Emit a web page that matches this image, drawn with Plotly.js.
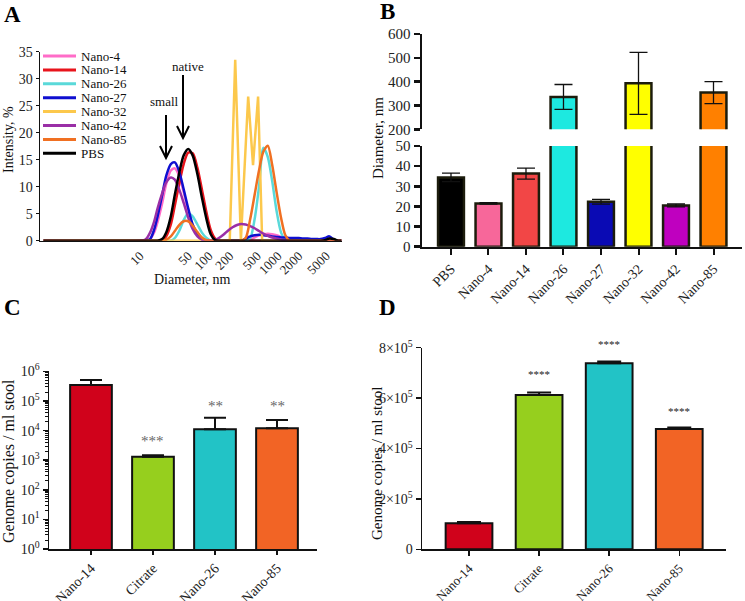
<!DOCTYPE html>
<html>
<head>
<meta charset="utf-8">
<script src="https://cdn.plot.ly/plotly-3.0.1.min.js"></script>
<style>html,body{margin:0;padding:0;background:#fff;}#chart{width:745px;height:601px;}</style>
</head>
<body>
<div id="chart"></div>
<script>
// ---------- Panel A: DLS intensity distributions ----------
const diameterNm = [0.4,10,12,14,16,18,21,24,28,32,37,43,50,58,68,79,92,106,123,143,165,190,220,255,295,340,396,459,531,615,712,825,955,1110,1280,1480,1720,1990,2300,2670,3090,3580,4150,4800,5560,6440,7460,8300];
const intNano4  = [0,0,0,0.3,1.5,3.5,7,10.5,13,13.4,12,9,5.5,2.8,1,0.2,0,0,0,0,0,0,0,0,0,0,0.2,0.6,1.0,1.2,1.3,1.2,1.0,0.7,0.4,0.2,0,0,0,0,0,0,0,0,0,0,0,0];
const intNano14 = [0,0,0,0,0,0,0.1,0.8,3,6.5,10.5,14.2,16.3,16.2,13.5,9.5,5.2,2,0.4,0,0,0,0,0,0,0,0,0,0,0,0,0,0,0,0,0,0,0,0,0,0,0,0,0,0,0,0,0];
const intNano26 = [0,0,0,0,0,0,0,0,0,0.5,1.8,3.8,5.1,4.5,3,1.5,0.5,0,0,0,0,0,0,0,0,0,0.5,4,10,17.2,15.5,11,5.5,1.5,0.2,0,0,0,0,0,0,0,0,0,0,0,0,0];
const intNano27 = [0,0,0,0.3,2,4.5,8.5,12,14.2,14.5,12.8,9.5,6,3,1.2,0.3,0,0,0,0,0,0,0,0,0,0.4,0.8,1.0,1.1,1.0,0.9,0.8,0.7,0.6,0.6,0.5,0.5,0.5,0.4,0.4,0.3,0.3,0.3,0.5,0.8,0.2,0,0];
const intNano42 = [0,0,0.2,1.5,3.5,6,8.8,10.8,11.7,11.3,9.5,7,4.3,2.2,0.8,0.2,0,0,0.1,0.6,1.2,1.9,2.5,2.9,3.1,3.0,2.7,2.3,1.8,1.3,0.9,0.6,0.4,0.2,0.1,0,0,0,0,0,0,0,0,0,0,0,0,0];
const intNano85 = [0,0,0,0,0,0,0,0.2,0.8,1.8,2.9,3.6,3.6,2.8,1.6,0.6,0.1,0,0,0,0,0,0,0,0,0.5,4,8.5,13,16.5,17.6,14,9,4.2,1,0,0,0,0,0,0,0,0,0,0.2,0.1,0,0];
const intPBS    = [0,0,0,0,0,0,0.3,1.5,4.5,8.5,12.5,15.8,17.0,15.8,12.3,8,4,1.2,0.1,0,0,0,0,0,0,0,0,0,0,0,0,0,0,0,0,0,0,0,0,0,0,0,0,0.1,0.4,0.3,0,0];
const diameterNano32 = [0.4,200,240,290,370,435,515,590,8300];
const intNano32      = [0,0,33.5,0,26.7,14,26.7,0,0];
const seriesNamesA  = ['Nano-4','Nano-14','Nano-26','Nano-27','Nano-32','Nano-42','Nano-85','PBS'];
const seriesColorsA = ['#ff6cc8','#e8141c','#5ad9d9','#0f0fd0','#fcc84c','#9a2fa6','#f07022','#000000'];
const xTicksA = [10,50,100,200,500,1000,2000,5000];

// ---------- Panel B: mean diameter ----------
const catsB   = ['PBS','Nano-4','Nano-14','Nano-26','Nano-27','Nano-32','Nano-42','Nano-85'];
const diamB   = [34.4,21.5,36.3,336,22.3,393,20.5,354];
const errB    = [2.1,0.4,2.7,52,1.2,130,0.7,46];
const colorsB = ['#000000','#f7679a','#f24646','#1de9e0','#0a0ab4','#ffff00','#bf00bf','#ff8000'];

// ---------- Panels C, D: genome copies ----------
const catsCD   = ['Nano-14','Citrate','Nano-26','Nano-85'];
const colorsCD = ['#d0021b','#96cf1e','#22c3c6','#f26425'];
const copiesC  = [3.5e5,1.3e3,1.1e4,1.2e4];
const errC     = [1.6e5,1.7e2,1.6e4,1.1e4];
const starsC   = ['','***','**','**'];
const copiesD  = [1.03e5,6.12e5,7.38e5,4.77e5];
const errD     = [0.05e5,0.1e5,0.07e5,0.06e5];
const starsD   = ['','****','****','****'];

// ---------- helpers ----------
const W = 745, H = 601;
const px = v => v / W;
const py = v => 1 - v / H;
const SERIF = 'Liberation Serif, Times New Roman, serif';
const INK = '#111';

const traces = [];
const intensities = [intNano4,intNano14,intNano26,intNano27,null,intNano42,intNano85,intPBS];
seriesNamesA.forEach((nm, i) => {
  const isZig = nm === 'Nano-32';
  traces.push({
    type:'scatter', mode:'lines', name:nm, xaxis:'x', yaxis:'y',
    x: isZig ? diameterNano32 : diameterNm,
    y: isZig ? intNano32 : intensities[i],
    line:{color:seriesColorsA[i], width:2.5, shape: isZig ? 'linear' : 'spline', smoothing:0.8}
  });
});

// Panel B: broken axis = same bars on a lower and upper axis
['y2','y3'].forEach(ya => {
  traces.push({
    type:'bar', xaxis:'x2', yaxis:ya, x:catsB, y:diamB, width:0.69,
    marker:{color:colorsB, line:{color:'#1c1c0c', width:2.5}},
    error_y:{type:'data', array:errB, visible:true, color:'#111', thickness:1.3, width:9}
  });
});

traces.push({
  type:'bar', xaxis:'x3', yaxis:'y4', x:catsCD, y:copiesC, width:0.673,
  marker:{color:colorsCD, line:{color:INK, width:2}},
  error_y:{type:'data', array:errC, arrayminus:[0,0,0,0], symmetric:false, visible:true, color:INK, thickness:2, width:11}
});
traces.push({
  type:'bar', xaxis:'x4', yaxis:'y5', x:catsCD, y:copiesD, width:0.667,
  marker:{color:colorsCD, line:{color:INK, width:2}},
  error_y:{type:'data', array:errD, arrayminus:[0,0,0,0], symmetric:false, visible:true, color:INK, thickness:2, width:12}
});

const baseAxis = {showgrid:false, zeroline:false, showline:true, linecolor:INK, tickcolor:INK,
                  tickfont:{family:SERIF, size:14, color:'#222'}, automargin:false, fixedrange:true};

const annotations = [];
const shapes = [];

function ann(x, y, text, opts) {
  annotations.push(Object.assign({xref:'paper', yref:'paper', x:px(x), y:py(y), text:text, showarrow:false,
    xanchor:'center', yanchor:'middle', font:{family:SERIF, size:14, color:'#111'}}, opts || {}));
}
// panel letters
ann(13, 15, '<b>A</b>', {font:{family:SERIF, size:23, color:'#000'}});
ann(387, 12, '<b>B</b>', {font:{family:SERIF, size:23, color:'#000'}});
ann(13, 307, '<b>C</b>', {font:{family:SERIF, size:23, color:'#000'}});
ann(387, 307, '<b>D</b>', {font:{family:SERIF, size:23, color:'#000'}});
// axis titles
ann(8, 140, 'Intensity, %', {textangle:-90, font:{family:SERIF, size:14, color:'#111'}});
ann(192, 279, 'Diameter, nm', {font:{family:SERIF, size:14, color:'#111'}});
ann(378, 138, 'Diameter, nm', {textangle:-90, font:{family:SERIF, size:15, color:'#111'}});
ann(9, 461, 'Genome copies / ml stool', {textangle:-90, font:{family:SERIF, size:16, color:'#111'}});
ann(377, 464, 'Genome copies / ml stool', {textangle:-90, font:{family:SERIF, size:15, color:'#111'}});
// arrows labels
ann(188, 66, 'native', {font:{family:SERIF, size:13, color:'#111'}});
ann(164, 102, 'small', {font:{family:SERIF, size:13, color:'#111'}});

function arrow(x, y0, y1) {
  shapes.push({type:'line', xref:'paper', yref:'paper', x0:px(x), x1:px(x), y0:py(y0), y1:py(y1-1), line:{color:'#000', width:2}});
  shapes.push({type:'path', xref:'paper', yref:'paper',
    path:`M${px(x-6)},${py(y1-12)} L${px(x)},${py(y1)} L${px(x+6)},${py(y1-12)}`, line:{color:'#000', width:2}});
}
arrow(183, 75, 138);
arrow(166, 115, 158);

// manual legend for panel A
seriesNamesA.forEach((nm, i) => {
  const yy = 56 + i * 13.9;
  shapes.push({type:'line', xref:'paper', yref:'paper', x0:px(43), x1:px(76), y0:py(yy), y1:py(yy), line:{color:seriesColorsA[i], width:3}});
  ann(79, yy, nm, {xanchor:'left', font:{family:SERIF, size:13, color:'#111'}});
});

// significance stars
starsC.forEach((s, i) => { if (s) annotations.push({xref:'x3', yref:'paper', x:catsCD[i], y:py(i === 1 ? 441 : 406), text:s, showarrow:false, yanchor:'middle', font:{family:SERIF, size:15, color:'#666'}}); });
const starsDy = [0, 374, 344, 411];
starsD.forEach((s, i) => { if (s) annotations.push({xref:'x4', yref:'paper', x:catsCD[i], y:py(starsDy[i]), text:s, showarrow:false, yanchor:'middle', font:{family:SERIF, size:11, color:'#222'}}); });

const layout = {
  width:W, height:H, margin:{l:0, r:0, t:0, b:0}, showlegend:false,
  paper_bgcolor:'#fff', plot_bgcolor:'rgba(0,0,0,0)', hovermode:false,
  font:{family:SERIF},
  xaxis: Object.assign({}, baseAxis, {domain:[px(40), px(342)], anchor:'y', type:'log', range:[-0.449, 3.928],
    tickvals:xTicksA, ticktext:xTicksA.map(String), tickangle:-45, ticks:'outside', ticklen:1, tickcolor:'rgba(0,0,0,0)',
    linewidth:1.5, tickfont:{family:SERIF, size:13, color:'#222'}}),
  yaxis: Object.assign({}, baseAxis, {domain:[py(240.7), py(51.7)], anchor:'x', range:[0,35], dtick:5,
    ticks:'outside', ticklen:3, tickwidth:1, linewidth:1.5}),
  xaxis2: Object.assign({}, baseAxis, {domain:[px(422), px(742)], anchor:'y2', type:'category', range:[-0.773, 7.76],
    ticks:'outside', ticklen:6, tickwidth:2, linewidth:2.5, tickangle:-45}),
  yaxis2: Object.assign({}, baseAxis, {domain:[py(246.7), py(146)], anchor:'x2', range:[0,50], dtick:10,
    ticks:'outside', ticklen:6, tickwidth:2.5, linewidth:2.5, tickfont:{family:SERIF, size:15, color:'#222'}}),
  yaxis3: Object.assign({}, baseAxis, {domain:[py(129.3), py(34)], anchor:'x2', range:[200,600], dtick:100,
    ticks:'outside', ticklen:6, tickwidth:2.5, linewidth:2.5, tickfont:{family:SERIF, size:15, color:'#222'}}),
  xaxis3: Object.assign({}, baseAxis, {domain:[px(49), px(317)], anchor:'y4', type:'category', range:[-0.677, 3.645],
    ticks:'outside', ticklen:4, tickwidth:1.5, linewidth:1.5, tickangle:-45}),
  yaxis4: Object.assign({}, baseAxis, {domain:[py(549), py(371.4)], anchor:'x3', type:'log', range:[0,6],
    tickvals:[1,10,100,1000,1e4,1e5,1e6], ticktext:[0,1,2,3,4,5,6].map(e => '10<sup>' + e + '</sup>'),
    ticks:'outside', ticklen:5, tickwidth:1.5, linewidth:1.5,
    minor:{ticks:'outside', ticklen:2.5, tickwidth:1, tickcolor:INK, dtick:'D1', showgrid:false}}),
  xaxis4: Object.assign({}, baseAxis, {domain:[px(422), px(726)], anchor:'y5', type:'category', range:[-0.671, 3.667],
    ticks:'outside', ticklen:5, tickwidth:1.5, linewidth:1.5, tickangle:-45, tickfont:{family:SERIF, size:13, color:'#222'}}),
  yaxis5: Object.assign({}, baseAxis, {domain:[py(549.3), py(347.7)], anchor:'x4', range:[0, 8e5],
    tickvals:[0,2e5,4e5,6e5,8e5], ticktext:['0','2×10<sup>5</sup>','4×10<sup>5</sup>','6×10<sup>5</sup>','8×10<sup>5</sup>'],
    ticks:'outside', ticklen:5, tickwidth:1.5, linewidth:1.5, tickfont:{family:SERIF, size:14, color:'#222'}}),
  annotations: annotations,
  shapes: shapes
};

Plotly.newPlot('chart', traces, layout, {staticPlot:true, displayModeBar:false});
</script>
</body>
</html>
